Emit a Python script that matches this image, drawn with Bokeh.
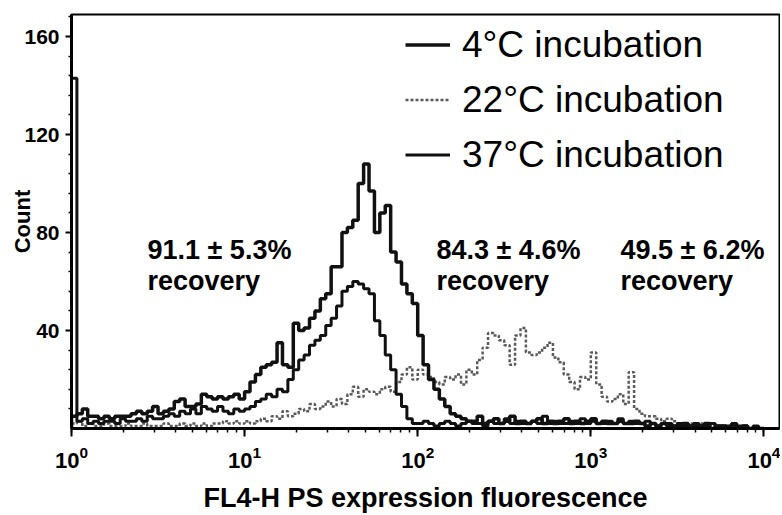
import numpy as np
from bokeh.plotting import figure
from bokeh.models import Range1d, FixedTicker, Legend, LegendItem, Label
from bokeh.embed import file_html
from bokeh.resources import INLINE

# ---------------- data ----------------
channels_per_decade = 32          # histogram channels per log decade (10^0 .. 10^4)

counts_4C = [
    5, 6, 8, 5, 5, 4, 5, 4, 5, 5,
    5, 6, 7, 6, 7, 9, 6, 7, 8, 11,
    12, 9, 9, 10, 14, 13, 12, 13, 12, 13,
    14, 12, 15, 19, 22, 25, 26, 27, 35, 26,
    25, 43, 40, 41, 45, 48, 53, 55, 66, 66,
    80, 82, 85, 100, 108, 97, 80, 88, 91, 72,
    68, 59, 55, 51, 38, 26, 20, 16, 12, 9,
    6, 5, 4, 3, 3, 5, 2, 3, 4, 2,
    3, 5, 2, 3, 2, 3, 4, 2, 3, 2,
    3, 4, 2, 3, 2, 3, 4, 2, 3, 2,
    2, 3, 2, 2, 3, 2, 1, 2, 1, 2,
    1, 1, 1, 2, 1, 1, 1, 2, 0, 1,
    1, 0, 1, 0, 1, 0, 0, 0,
]

counts_22C = [
    2, 3, 1, 2, 1, 1, 2, 1, 1, 1,
    2, 1, 1, 2, 1, 1, 1, 2, 1, 1,
    2, 1, 2, 1, 2, 1, 2, 2, 3, 2,
    3, 2, 3, 2, 3, 4, 3, 5, 4, 7,
    5, 6, 8, 7, 10, 8, 9, 11, 9, 12,
    10, 14, 17, 13, 16, 15, 14, 16, 17, 15,
    19, 22, 25, 20, 24, 22, 21, 19, 18, 21,
    20, 22, 18, 24, 22, 28, 33, 39, 38, 36,
    34, 26, 38, 41, 31, 30, 31, 33, 35, 29,
    27, 22, 19, 16, 21, 20, 31, 18, 13, 11,
    12, 14, 10, 23, 8, 6, 5, 5, 4, 3,
    4, 3, 2, 2, 2, 1, 2, 1, 1, 1,
    0, 1, 0, 0, 1, 0, 0, 0,
]

counts_37C = [
    143, 3, 4, 2, 3, 2, 3, 3, 2, 4,
    3, 3, 4, 3, 5, 4, 4, 5, 6, 5,
    7, 6, 8, 6, 9, 8, 7, 9, 7, 6,
    8, 7, 8, 9, 11, 12, 14, 13, 16, 15,
    20, 24, 28, 30, 34, 36, 38, 42, 45, 50,
    56, 58, 60, 59, 57, 55, 44, 38, 30, 24,
    14, 9, 4, 2, 2, 3, 2, 1, 2, 3,
    2, 1, 2, 3, 2, 2, 1, 3, 2, 2,
    4, 2, 3, 2, 2, 3, 2, 5, 2, 3,
    2, 2, 3, 2, 4, 2, 3, 2, 2, 3,
    2, 4, 2, 3, 2, 2, 3, 2, 1, 2,
    2, 1, 2, 1, 1, 2, 1, 1, 2, 1,
    1, 1, 2, 1, 1, 0, 1, 0,
]

series_labels = ["4°C incubation", "22°C incubation", "37°C incubation"]
recovery_texts = ["91.1 ± 5.3%", "84.3 ± 4.6%", "49.5 ± 6.2%"]
y_major_ticks = [40, 80, 120, 160]
y_minor_step = 8

# ---------------- figure ----------------
FONT = "Liberation Sans"
n_bins = len(counts_4C)
edges = 10.0 ** (np.arange(n_bins + 1) / channels_per_decade)


def step_xy(counts):
    xs = np.concatenate([[edges[0]], edges])
    ys = np.array([0] + list(counts) + [0], dtype=float)
    return xs, ys


p = figure(width=780, height=515, x_axis_type="log",
           x_range=Range1d(1, 10 ** 4.09), y_range=Range1d(0, 169),
           output_backend="svg", toolbar_location=None,
           min_border_left=71, min_border_right=1,
           min_border_top=14, min_border_bottom=87)

x22, y22 = step_xy(counts_22C)
r22 = p.step(x22, y22, mode="after", line_color="#5a5a5a",
             line_width=2.5, line_dash="3 2")
x37, y37 = step_xy(counts_37C)
r37 = p.step(x37, y37, mode="after", line_color="#111111", line_width=3)
x4, y4 = step_xy(counts_4C)
r4 = p.step(x4, y4, mode="after", line_color="#111111", line_width=3.5)

p.xgrid.visible = False
p.ygrid.visible = False
p.outline_line_color = "black"
p.outline_line_width = 2
p.background_fill_color = "white"
p.border_fill_color = "white"

# axes
for ax in (p.xaxis[0], p.yaxis[0]):
    ax.axis_line_width = 3
    ax.axis_line_color = "black"
    ax.major_tick_line_width = 2
    ax.minor_tick_line_width = 1.5
    ax.major_tick_line_color = "black"
    ax.minor_tick_line_color = "black"
    ax.major_label_text_font = FONT
    ax.major_label_text_font_style = "bold"
    ax.major_label_text_color = "black"
    ax.axis_label_text_font = FONT
    ax.axis_label_text_font_style = "bold"
    ax.axis_label_text_color = "black"

p.xaxis.major_tick_in = 0
p.xaxis.major_tick_out = 8
p.xaxis.minor_tick_in = 0
p.xaxis.minor_tick_out = 4
p.xaxis.major_label_text_font_size = "22px"
p.xaxis.major_label_standoff = 9
p.xaxis.axis_label = "FL4-H PS expression fluorescence"
p.xaxis.axis_label_text_font_size = "27px"
p.xaxis.axis_label_standoff = 12

y_minor = [v for v in range(y_minor_step, 169, y_minor_step) if v not in y_major_ticks]
p.yaxis.ticker = FixedTicker(ticks=y_major_ticks, minor_ticks=y_minor)
p.yaxis.major_tick_in = 0
p.yaxis.major_tick_out = 6
p.yaxis.minor_tick_in = 0
p.yaxis.minor_tick_out = 3
p.yaxis.major_label_text_font_size = "21px"
p.yaxis.major_label_standoff = 6
p.yaxis.axis_label = "Count"
p.yaxis.axis_label_text_font_size = "22px"
p.yaxis.axis_label_standoff = -14

# legend
legend = Legend(items=[LegendItem(label=series_labels[0], renderers=[r4]),
                       LegendItem(label=series_labels[1], renderers=[r22]),
                       LegendItem(label=series_labels[2], renderers=[r37])],
                location=(334, 246), orientation="vertical",
                label_text_font=FONT, label_text_font_size="37px",
                label_text_color="black", label_height=55, glyph_height=55,
                glyph_width=45, label_standoff=12, spacing=0, padding=0,
                margin=0, border_line_alpha=0, background_fill_alpha=0)
p.add_layout(legend)

# recovery annotations (screen positions relative to the plot frame)
ann_x = [76, 365, 549]
for tx, txt in zip(ann_x, recovery_texts):
    for yy, t in ((179, txt), (148, "recovery")):
        p.add_layout(Label(x=tx, y=yy, x_units="screen", y_units="screen",
                           text=t, text_font=FONT, text_font_style="bold",
                           text_font_size="27px", text_color="black",
                           text_baseline="alphabetic"))

open("out.html", "w").write(file_html(p, INLINE))
